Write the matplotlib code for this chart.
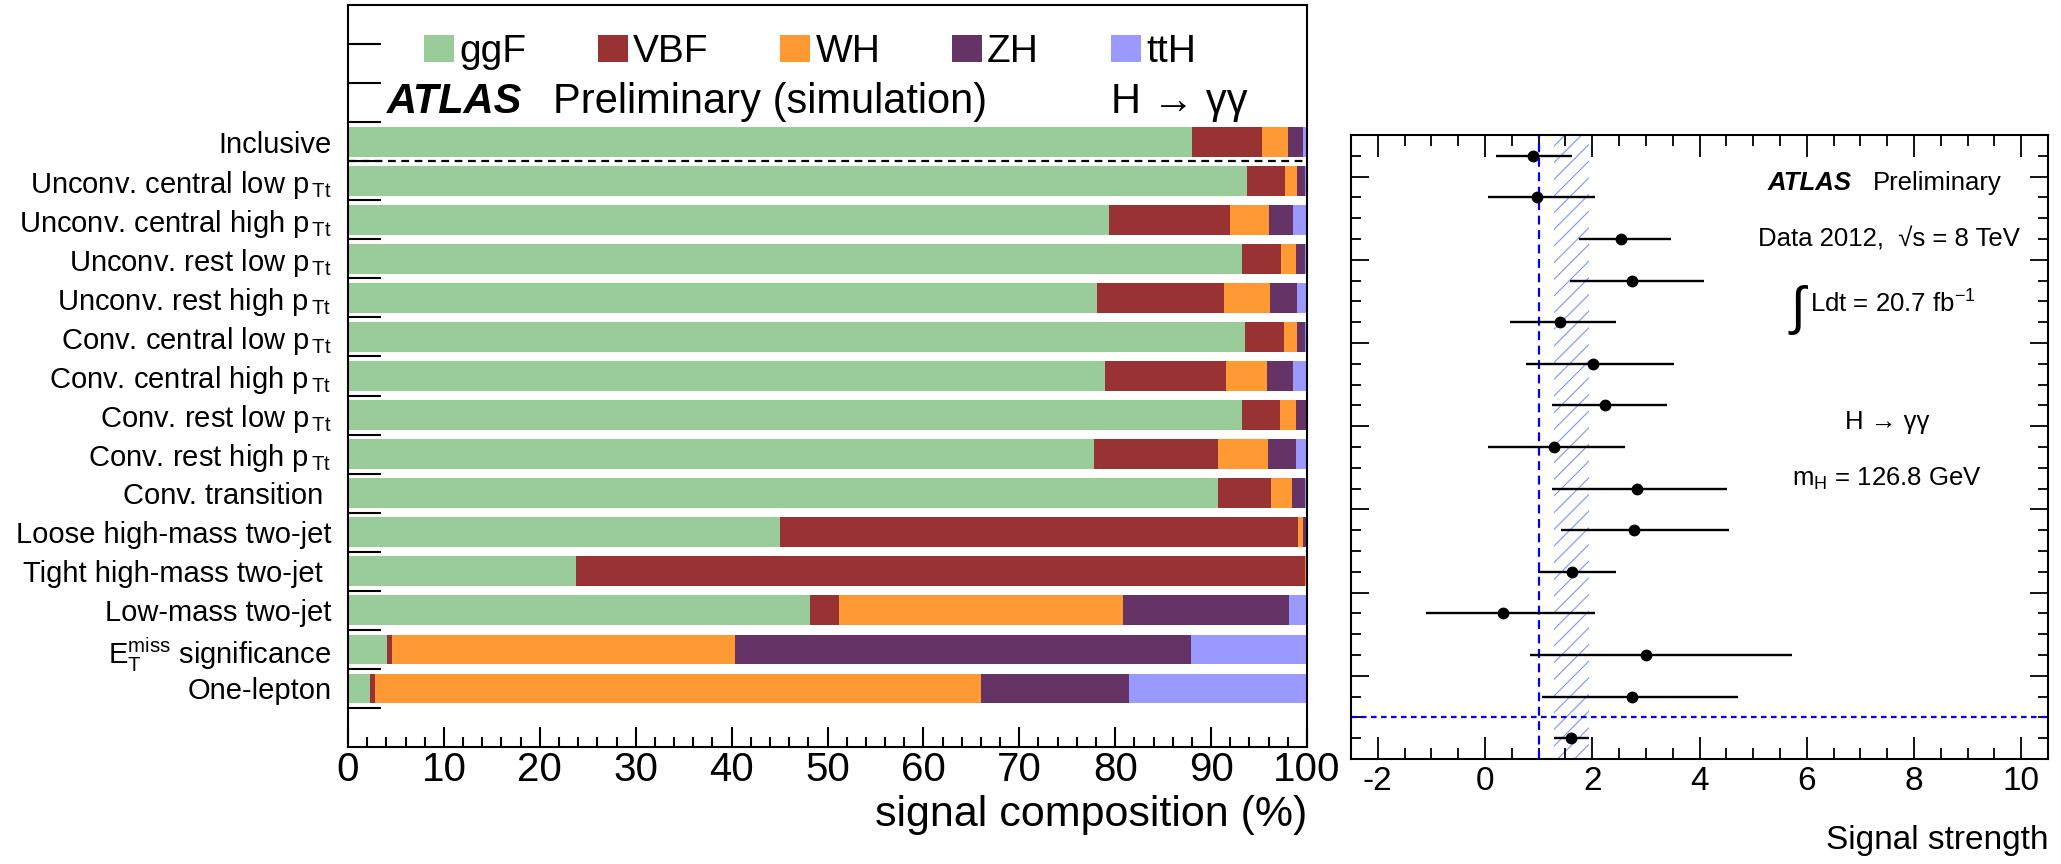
import numpy as np
import matplotlib
matplotlib.use("Agg")
import matplotlib.pyplot as plt
from matplotlib.ticker import MultipleLocator, FixedLocator, NullFormatter

plt.rcParams['font.family'] = ['Liberation Sans', 'DejaVu Sans']
plt.rcParams['mathtext.fontset'] = 'custom'
plt.rcParams['mathtext.rm'] = 'Liberation Sans'
plt.rcParams['mathtext.it'] = 'Liberation Sans:italic'
plt.rcParams['mathtext.bf'] = 'Liberation Sans:bold'
plt.rcParams['hatch.linewidth'] = 0.8

# ---------------- data ----------------
categories = [
    "Inclusive",
    r"Unconv. central low p$_{\,\mathrm{Tt}}$",
    r"Unconv. central high p$_{\,\mathrm{Tt}}$",
    r"Unconv. rest low p$_{\,\mathrm{Tt}}$",
    r"Unconv. rest high p$_{\,\mathrm{Tt}}$",
    r"Conv. central low p$_{\,\mathrm{Tt}}$",
    r"Conv. central high p$_{\,\mathrm{Tt}}$",
    r"Conv. rest low p$_{\,\mathrm{Tt}}$",
    r"Conv. rest high p$_{\,\mathrm{Tt}}$",
    "Conv. transition ",
    "Loose high-mass two-jet",
    "Tight high-mass two-jet ",
    "Low-mass two-jet",
    r"$\mathrm{E}_{\mathrm{T}}^{\mathrm{miss}}$ significance",
    "One-lepton",
]
processes = ["ggF", "VBF", "WH", "ZH", "ttH"]
colors = ["#99cc99", "#993333", "#ff9933", "#663366", "#9999ff"]

ggF = [88.0, 93.7, 79.4, 93.2, 78.1, 93.5, 78.9, 93.2, 77.8, 90.7, 45.0, 23.8, 48.2, 4.1, 2.3]
VBF = [7.3, 4.0, 12.6, 4.1, 13.2, 4.1, 12.7, 4.0, 12.9, 5.5, 54.1, 76.0, 3.0, 0.5, 0.5]
WH = [2.7, 1.3, 4.0, 1.6, 4.8, 1.4, 4.2, 1.7, 5.2, 2.2, 0.5, 0.1, 29.6, 35.8, 63.2]
ZH = [1.6, 0.8, 2.5, 0.9, 2.9, 0.8, 2.7, 1.0, 3.0, 1.4, 0.3, 0.1, 17.3, 47.5, 15.4]
ttH = [0.4, 0.2, 1.5, 0.2, 1.0, 0.2, 1.5, 0.1, 1.1, 0.2, 0.1, 0.0, 1.9, 12.1, 18.6]
fractions = [ggF, VBF, WH, ZH, ttH]

# signal strength per category (top to bottom, excluding inclusive), then combined
mu_cats = [0.90, 0.97, 2.54, 2.74, 1.40, 2.01, 2.24, 1.29, 2.84, 2.78, 1.62, 0.34, 3.00, 2.74]
mu_lo = [0.21, 0.06, 1.75, 1.59, 0.47, 0.76, 1.25, 0.06, 1.25, 1.42, 0.99, -1.10, 0.84, 1.06]
mu_hi = [1.62, 2.05, 3.47, 4.09, 2.44, 3.53, 3.40, 2.61, 4.51, 4.55, 2.44, 2.05, 5.73, 4.72]
mu_comb = 1.60
mu_comb_lo = 1.28
mu_comb_hi = 1.94
sm_mu = 1.0

xticks_left = [0, 10, 20, 30, 40, 50, 60, 70, 80, 90, 100]
xticks_right = [-2, 0, 2, 4, 6, 8, 10]

# ---------------- figure ----------------
W, H = 2061, 864
fig = plt.figure(figsize=(W / 100, H / 100), dpi=100)


def fx(px):
    return px / W


def fy(py):
    return 1 - py / H


# ----- left panel -----
ax = fig.add_axes([fx(348), fy(747), (1307 - 348) / W, (747 - 5) / H])
n = len(categories)
ypos = np.arange(n)[::-1]  # Inclusive at top
left = np.zeros(n)
handles = []
for name, col, vals in zip(processes, colors, fractions):
    vals = np.array(vals)
    b = ax.barh(ypos, vals, left=left, height=0.76, color=col, label=name, linewidth=0)
    handles.append(b)
    left = left + vals

ax.set_xlim(0, 100)
ax.set_ylim(-1.5, n + 2.5)
ax.axhline(n - 1.5, color="black", ls=(0, (3.5, 2.5)), lw=1.6)

ax.set_xticks(xticks_left)
ax.set_xticklabels([str(v) for v in xticks_left])
ax.xaxis.set_minor_locator(MultipleLocator(2))
ax.tick_params(axis="x", which="major", direction="in", length=14.5, width=1.5,
               labelsize=29, pad=3, top=False)
ax.tick_params(axis="x", which="minor", direction="in", length=7.5, width=1.5, top=False)

ax.yaxis.set_major_locator(FixedLocator(np.arange(-0.5, n + 2, 1.0)))
ax.yaxis.set_major_formatter(NullFormatter())
ax.set_yticks(ypos, minor=True)
ax.set_yticklabels(categories, minor=True)
ax.tick_params(axis="y", which="major", direction="in", length=24, width=1.5, right=False)
ax.tick_params(axis="y", which="minor", length=0, labelsize=21, pad=12)
for s in ax.spines.values():
    s.set_linewidth(1.5)
ax.set_xlabel("signal composition (%)", fontsize=31, loc="right", labelpad=4)

ax.legend(handles=handles, labels=processes, ncol=5, frameon=False, fontsize=28,
          loc="center left", bbox_to_anchor=(fx(424), fy(52)), bbox_transform=fig.transFigure,
          borderpad=0, borderaxespad=0, handlelength=0.77, handleheight=0.7,
          handletextpad=0.13, columnspacing=1.85)

fig.text(fx(387), fy(113), "ATLAS", fontsize=30, fontweight="bold", style="italic", va="baseline")
fig.text(fx(553), fy(113), "Preliminary (simulation)", fontsize=30, va="baseline")
fig.text(fx(1111), fy(113), "H → γγ", fontsize=30, va="baseline")

# ----- right panel -----
ax2 = fig.add_axes([fx(1351), fy(759), (2048 - 1351) / W, (759 - 135) / H])
m = len(mu_cats)
ypos2 = np.arange(m)[::-1] + 1.5
mu_arr = np.array(mu_cats)
ax2.axvspan(mu_comb_lo, mu_comb_hi, facecolor="none", edgecolor="#7f95ff",
            hatch="//", linewidth=0, zorder=1)
ax2.axvline(sm_mu, color="blue", ls=(0, (4, 2.5)), lw=1.6, zorder=2)
ax2.axhline(1.0, color="blue", ls=(0, (2.5, 2)), lw=1.6, zorder=2)
ax2.errorbar(mu_arr, ypos2, xerr=[mu_arr - np.array(mu_lo), np.array(mu_hi) - mu_arr],
             fmt="o", color="black", ms=7.5, elinewidth=1.7, capsize=0, zorder=3)
ax2.errorbar([mu_comb], [0.5], xerr=[[mu_comb - mu_comb_lo], [mu_comb_hi - mu_comb]],
             fmt="o", color="black", ms=7.5, elinewidth=1.7, capsize=0, zorder=3)

ax2.set_xlim(-2.5, 10.5)
ax2.set_ylim(0, m + 1)
ax2.set_xticks(xticks_right)
ax2.set_xticklabels([str(v) for v in xticks_right])
ax2.xaxis.set_minor_locator(MultipleLocator(0.5))
ax2.yaxis.set_major_locator(MultipleLocator(2))
ax2.yaxis.set_minor_locator(MultipleLocator(0.5))
ax2.yaxis.set_major_formatter(NullFormatter())
ax2.tick_params(axis="x", which="major", direction="in", length=16, width=1.3,
                labelsize=24, pad=5, top=True)
ax2.tick_params(axis="x", which="minor", direction="in", length=8, width=1.3, top=True)
ax2.tick_params(axis="y", which="major", direction="in", length=13, width=1.3, right=True)
ax2.tick_params(axis="y", which="minor", direction="in", length=7, width=1.3, right=True)
for s in ax2.spines.values():
    s.set_linewidth(1.5)
ax2.set_xlabel("Signal strength", fontsize=24, loc="right", labelpad=20)

fs = 18.5
fig.text(fx(1768), fy(190), "ATLAS", fontsize=fs, fontweight="bold", style="italic", va="baseline")
fig.text(fx(2002), fy(190), "Preliminary", fontsize=fs, ha="right", va="baseline")
fig.text(fx(2020), fy(247), "Data 2012,  √s = 8 TeV", fontsize=fs, ha="right", va="baseline")
fig.text(fx(1790), fy(310), "∫", fontsize=38, va="center")
fig.text(fx(1810), fy(313), r"Ldt = 20.7 fb$^{-1}$", fontsize=fs, va="baseline")
fig.text(fx(1845), fy(429), "H → γγ", fontsize=fs, va="baseline")
fig.text(fx(1792), fy(486), r"m$_{\mathrm{H}}$ = 126.8 GeV", fontsize=fs, va="baseline")

fig.savefig("out.png", dpi=100)
